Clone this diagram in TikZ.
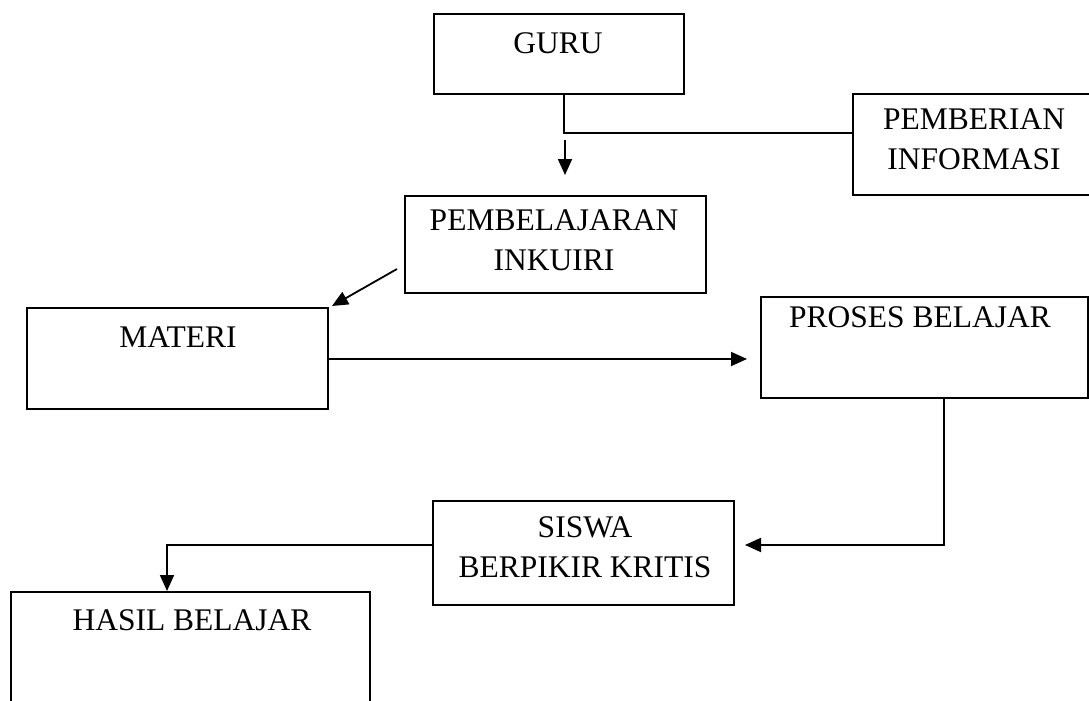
\documentclass[tikz,border=0pt]{standalone}
\usepackage{fontspec}
\setmainfont{Liberation Serif}
\usetikzlibrary{arrows.meta}
\begin{document}
\begin{tikzpicture}[x=1pt,y=-1pt,
  box/.style={draw, line width=1.8pt, inner sep=0pt, anchor=north west},
  lbl/.style={font=\fontsize{31.5}{40}\selectfont, align=center, inner sep=0pt, anchor=base},
  conn/.style={line width=1.8pt},
  arr/.style={line width=1.8pt, -{Triangle[length=16pt,width=14pt]}}]
\useasboundingbox (0,0) rectangle (1089,701);
% boxes
\node[box, minimum width=250pt, minimum height=80pt] (guru) at (433,13) {};
\node[box, minimum width=260pt, minimum height=101pt] (pemb) at (852,93) {};
\node[box, minimum width=301pt, minimum height=97pt] (inkuiri) at (404,195) {};
\node[box, minimum width=301pt, minimum height=101pt] (materi) at (26,307) {};
\node[box, minimum width=327pt, minimum height=101pt] (proses) at (760,296) {};
\node[box, minimum width=301pt, minimum height=104pt] (siswa) at (432,500) {};
\node[box, minimum width=359pt, minimum height=160pt] (hasil) at (10,591) {};
% texts (base anchor = baseline of the last line)
\node[lbl] (tguru) at (558,53) {GURU};
\node[lbl] (tpemb) at (974,169) {PEMBERIAN\\INFORMASI};
\node[lbl] (tinkuiri) at (554,270) {PEMBELAJARAN\\INKUIRI};
\node[lbl] (tmateri) at (178,347) {MATERI};
\node[lbl] (tproses) at (920,327) {PROSES BELAJAR};
\node[lbl] (tsiswa) at (585,577) {SISWA\\BERPIKIR KRITIS};
\node[lbl] (thasil) at (192,630) {HASIL BELAJAR};
% helper coordinates
\coordinate (g1) at (564,133);
\coordinate (a1) at (565,140);
\coordinate (a2) at (565,175);
\coordinate (b1) at (397,269);
\coordinate (b2) at (332,306);
\coordinate (m1) at (747,359);
\coordinate (p1) at (944,545);
\coordinate (p2) at (745,545);
\coordinate (h1) at (167,545);
% connectors
\draw[conn] (guru.south -| g1) -- (g1) -- (pemb.west |- g1);
\draw[arr] (a1) -- (a2);
\draw[arr] (b1) -- (b2);
\draw[arr] (materi.east |- m1) -- (m1);
\draw[arr] (proses.south -| p1) -- (p1) -- (p2);
\draw[arr] (siswa.west |- h1) -- (h1) -- (hasil.north -| h1);
\end{tikzpicture}
\end{document}
